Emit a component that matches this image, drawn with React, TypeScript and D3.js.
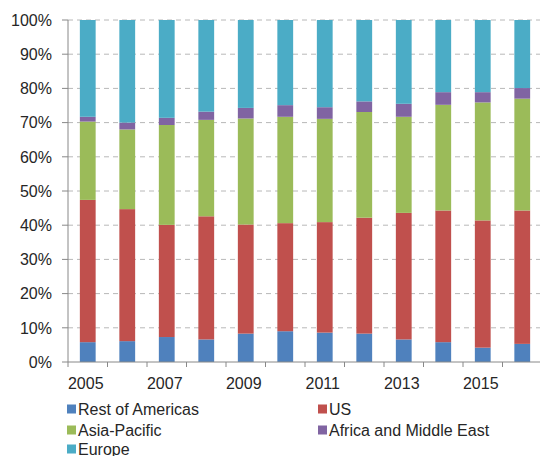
import React from "react";
import * as d3 from "d3";

const years = ["2005","2006","2007","2008","2009","2010","2011","2012","2013","2014","2015","2016"];
const tickYears = ["2005","2007","2009","2011","2013","2015"];
const seriesNames = ["Rest of Americas","US","Asia-Pacific","Africa and Middle East","Europe"];
const restOfAmericas = [5.8, 6.1, 7.3, 6.6, 8.3, 9.0, 8.6, 8.3, 6.6, 5.8, 4.2, 5.3];
const us = [41.6, 38.6, 32.8, 36.0, 31.9, 31.6, 32.3, 33.9, 37.0, 38.5, 37.2, 39.0];
const asiaPacific = [22.9, 23.3, 29.2, 28.2, 31.0, 31.1, 30.2, 30.9, 28.1, 30.9, 34.5, 32.7];
const africaME = [1.4, 2.0, 2.1, 2.4, 3.1, 3.4, 3.4, 3.1, 3.8, 3.7, 3.0, 3.1];
const europe = [28.3, 30.0, 28.6, 26.8, 25.7, 24.9, 25.5, 23.8, 24.5, 21.1, 21.1, 19.9];
const colors = ["#4F81BD", "#C0504D", "#9BBB59", "#8064A2", "#4BACC6"];
const yTicks = [0, 10, 20, 30, 40, 50, 60, 70, 80, 90, 100];

export default function App() {
  const W = 540, H = 456;
  const left = 68, right = 542, top = 20, bottom = 362;
  const seriesData = [restOfAmericas, us, asiaPacific, africaME, europe];
  const rows = years.map((y, i) => {
    const r: any = { year: y };
    seriesNames.forEach((s, k) => { r[s] = seriesData[k][i]; });
    return r;
  });
  const stack = d3.stack<any>().keys(seriesNames).offset(d3.stackOffsetExpand);
  const stacked = stack(rows);
  const x = d3.scaleBand().domain(years).range([left, right]).paddingInner(0.6).paddingOuter(0.3);
  const band = d3.scaleBand().domain(years).range([left, right]);
  const y = d3.scaleLinear().domain([0, 1]).range([bottom, top]);
  const font = "'Liberation Sans', Arial, sans-serif";
  const textColor = "#262626";

  const legendItems = [
    { name: seriesNames[0], c: colors[0], x: 67, y: 409 },
    { name: seriesNames[1], c: colors[1], x: 318, y: 409 },
    { name: seriesNames[2], c: colors[2], x: 67, y: 430 },
    { name: seriesNames[3], c: colors[3], x: 318, y: 430 },
    { name: seriesNames[4], c: colors[4], x: 67, y: 449 },
  ];

  return (
    <svg width={W} height={H} style={{ position: "absolute", left: 0, top: 0, background: "#fff" }}>
      {yTicks.map((t) => (
        <g key={t}>
          {t > 0 && (
            <line x1={left} x2={W} y1={y(t / 100)} y2={y(t / 100)} stroke="#b8b8b8" strokeWidth={1} strokeDasharray="5,4" />
          )}
          <line x1={left - 6} x2={left} y1={y(t / 100)} y2={y(t / 100)} stroke="#888" strokeWidth={1} />
          <text x={52} y={y(t / 100)} dy="0.36em" textAnchor="end" fontFamily={font} fontSize={16} fill={textColor}>
            {t}%
          </text>
        </g>
      ))}
      {stacked.map((s, k) => (
        <g key={s.key} fill={colors[k]}>
          {s.map((d, i) => (
            <rect key={i} x={x(years[i])} width={x.bandwidth()} y={y(d[1])} height={y(d[0]) - y(d[1])} />
          ))}
        </g>
      ))}
      <line x1={left} x2={left} y1={top} y2={bottom} stroke="#888" strokeWidth={1} />
      <line x1={left} x2={W} y1={bottom} y2={bottom} stroke="#888" strokeWidth={1} />
      {years.map((yr) => (
        <line key={yr} x1={band(yr)!} x2={band(yr)!} y1={bottom} y2={bottom + 5} stroke="#888" strokeWidth={1} />
      ))}
      {tickYears.map((yr) => (
        <text key={yr} x={x(yr)! + x.bandwidth() / 2 - 2} y={389} textAnchor="middle" fontFamily={font} fontSize={16} fill={textColor}>
          {yr}
        </text>
      ))}
      {legendItems.map((l) => (
        <g key={l.name}>
          <rect x={l.x} y={l.y - 4.5} width={9} height={9} fill={l.c} />
          <text x={l.x + 11} y={l.y} dy="0.36em" fontFamily={font} fontSize={16} fill={textColor}>
            {l.name}
          </text>
        </g>
      ))}
    </svg>
  );
}
